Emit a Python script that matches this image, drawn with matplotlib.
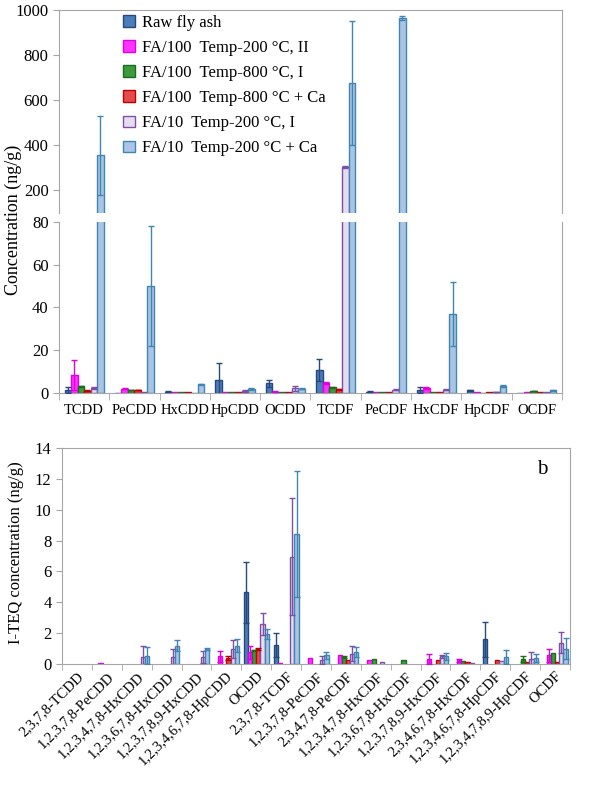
import numpy as np
import matplotlib.pyplot as plt

plt.rcParams['font.family'] = ['Liberation Serif', 'DejaVu Serif']

# Homologue groups (top chart)
homologues = ['TCDD', 'PeCDD', 'HxCDD', 'HpCDD', 'OCDD',
              'TCDF', 'PeCDF', 'HxCDF', 'HpCDF', 'OCDF']

# 2,3,7,8-substituted congeners (bottom chart)
congeners = ['2,3,7,8-TCDD', '1,2,3,7,8-PeCDD', '1,2,3,4,7,8-HxCDD',
             '1,2,3,6,7,8-HxCDD', '1,2,3,7,8,9-HxCDD', '1,2,3,4,6,7,8-HpCDD',
             'OCDD', '2,3,7,8-TCDF', '1,2,3,7,8-PeCDF', '2,3,4,7,8-PeCDF',
             '1,2,3,4,7,8-HxCDF', '1,2,3,6,7,8-HxCDF', '1,2,3,7,8,9-HxCDF',
             '2,3,4,6,7,8-HxCDF', '1,2,3,4,6,7,8-HpCDF', '1,2,3,4,7,8,9-HpCDF',
             'OCDF']

labels = ['Raw fly ash',
          'FA/100  Temp-200 °C, II',
          'FA/100  Temp-800 °C, I',
          'FA/100  Temp-800 °C + Ca',
          'FA/10  Temp-200 °C, I',
          'FA/10  Temp-200 °C + Ca']

# homologue concentrations (ng/g) and errors
raw_h = [1.4, 0.1, 0.6, 6.1, 4.5, 10.7, 0.5, 1.2, 1.2, 0.1]
raw_h_err = [1.4, 0, 0.2, 8.1, 1.6, 5.3, 0.2, 1.4, 0.3, 0]
mag_h = [8.4, 1.9, 0.3, 0.6, 0.6, 4.5, 0.4, 2.2, 0.3, 0.3]
mag_h_err = [7.0, 0.2, 0, 0, 0.2, 0.5, 0, 0.3, 0, 0]
grn_h = [3.0, 1.2, 0.3, 0.2, 0.5, 2.5, 0.2, 0.3, 0.1, 0.9]
grn_h_err = [0.3, 0.1, 0, 0, 0, 0.2, 0, 0, 0, 0.1]
red_h = [1.0, 1.2, 0.3, 0.2, 0.5, 1.6, 0.2, 0.3, 0.4, 0.5]
red_h_err = [0.2, 0.1, 0, 0, 0, 0.3, 0, 0, 0, 0]
pur_h = [2.3, 0.3, 0.1, 0.8, 2.2, 304, 1.5, 1.5, 0.4, 0.3]
pur_h_err = [0.5, 0, 0, 0.3, 1.2, 5, 0.4, 0.4, 0.1, 0]
lbl_h = [355, 50, 4.0, 1.9, 2.0, 677, 965, 37, 3.1, 1.2]
lbl_h_err = [175, 28, 0.3, 0.5, 0.4, 275, 8, 15, 0.5, 0.3]

# congener I-TEQ concentrations and errors
raw_c = [0, 0, 0, 0, 0, 0, 4.64, 1.24, 0, 0, 0, 0, 0, 0, 1.6, 0, 0]
raw_c_err = [0, 0, 0, 0, 0, 0, 1.95, 0.8, 0, 0, 0, 0, 0, 0, 1.15, 0, 0]
mag_c = [0, 0.05, 0, 0, 0, 0.5, 0.77, 0.05, 0.37, 0.56, 0.28, 0, 0.3, 0.25, 0, 0, 0.56]
mag_c_err = [0, 0, 0, 0, 0, 0.36, 0.43, 0, 0, 0, 0, 0, 0.33, 0.1, 0, 0, 0.41]
grn_c = [0, 0, 0, 0, 0, 0, 0.88, 0, 0, 0.45, 0.3, 0.25, 0, 0.2, 0, 0.35, 0.71]
grn_c_err = [0, 0, 0, 0, 0, 0, 0.05, 0, 0, 0.05, 0, 0, 0, 0, 0, 0.2, 0]
red_c = [0, 0, 0, 0, 0, 0.39, 0.99, 0, 0, 0.28, 0, 0, 0.28, 0.1, 0.28, 0.15, 0.1]
red_c_err = [0, 0, 0, 0, 0, 0.1, 0.05, 0, 0, 0, 0, 0, 0, 0, 0, 0, 0]
pur_c = [0, 0, 0.45, 0.45, 0.45, 0.97, 2.6, 6.95, 0.28, 0.67, 0.12, 0, 0.49, 0.05, 0.2, 0.35, 1.39]
pur_c_err = [0, 0, 0.7, 0.55, 0.37, 0.56, 0.7, 3.8, 0.26, 0.47, 0, 0, 0.1, 0, 0, 0.45, 0.67]
lbl_c = [0, 0, 0.54, 1.19, 0.97, 1.19, 1.94, 8.43, 0.56, 0.77, 0, 0, 0.49, 0, 0.45, 0.4, 0.99]
lbl_c_err = [0, 0, 0.54, 0.34, 0.05, 0.44, 0.33, 4.1, 0.24, 0.31, 0, 0, 0.21, 0, 0.48, 0.27, 0.69]

faces = ['#4A7EBB', '#FF33FF', '#3E9A3E', '#E54B4B', '#E6DCF0', '#A9C4E4']
edges = ['#24497A', '#E000E0', '#1D6B1D', '#C00000', '#7F4FA8', '#3F86B3']
grey = '#A6A6A6'

homo_vals = [raw_h, mag_h, grn_h, red_h, pur_h, lbl_h]
homo_errs = [raw_h_err, mag_h_err, grn_h_err, red_h_err, pur_h_err, lbl_h_err]
cong_vals = [raw_c, mag_c, grn_c, red_c, pur_c, lbl_c]
cong_errs = [raw_c_err, mag_c_err, grn_c_err, red_c_err, pur_c_err, lbl_c_err]

fig = plt.figure(figsize=(5.91, 7.92), dpi=100)
ax_hi = fig.add_axes([0.0998, 0.7311, 0.851, 0.2563])
ax_lo = fig.add_axes([0.0998, 0.504, 0.851, 0.2157])
ax_b = fig.add_axes([0.1049, 0.1616, 0.8596, 0.2727])


def draw_groups(ax, vals, errs, n, w):
    x = np.arange(n)
    handles = []
    for k in range(6):
        v = np.array(vals[k], dtype=float)
        e = np.array(errs[k], dtype=float)
        off = (k - 2.5) * w
        keep = v > 0
        b = ax.bar(x[keep] + off, v[keep], w, color=faces[k], edgecolor=edges[k],
                   linewidth=1.0, label=labels[k], zorder=2)
        ke = keep & (e > 0)
        ax.errorbar(x[ke] + off, v[ke], yerr=e[ke], fmt='none',
                    ecolor=edges[k], elinewidth=1.0, capsize=2, capthick=1.0,
                    zorder=3)
        handles.append(b)
    return handles


def style(ax):
    for s in ax.spines.values():
        s.set_color(grey)
    ax.tick_params(axis='both', colors=grey, labelcolor='black')


# top chart, broken y axis
handles = draw_groups(ax_hi, homo_vals, homo_errs, 10, 0.13)
draw_groups(ax_lo, homo_vals, homo_errs, 10, 0.13)

ax_hi.set_ylim(100, 1000)
ax_lo.set_ylim(0, 80)
ax_hi.set_yticks([200, 400, 600, 800, 1000])
ax_lo.set_yticks([0, 20, 40, 60, 80])
for ax in (ax_hi, ax_lo):
    ax.set_xlim(-0.5, 9.5)
    style(ax)
    ax.tick_params(axis='y', labelsize=12, length=4)
ax_hi.spines['bottom'].set_visible(False)
ax_hi.set_xticks([])
ax_lo.spines['top'].set_visible(False)
ax_lo.set_xticks(np.arange(10))
ax_lo.set_xticklabels(homologues, fontsize=10.5)
ax_lo.tick_params(axis='x', which='major', length=0, pad=8)
ax_lo.set_xticks(np.arange(11) - 0.5, minor=True)
ax_lo.tick_params(axis='x', which='minor', length=5, colors=grey)

ax_hi.legend(handles=handles, loc='upper left', bbox_to_anchor=(0.115, 1.01),
             frameon=False, fontsize=12, handlelength=0.7, handleheight=0.7,
             labelspacing=0.55, handletextpad=0.4, borderaxespad=0)

fig.text(0.022, 0.722, 'Concentration (ng/g)', rotation=90,
         ha='center', va='center', fontsize=13)

# bottom chart, congeners
draw_groups(ax_b, cong_vals, cong_errs, 17, 0.14)
ax_b.set_xlim(-0.5, 16.5)
ax_b.set_ylim(0, 14)
ax_b.set_yticks(np.arange(0, 15, 2))
style(ax_b)
ax_b.tick_params(axis='y', labelsize=12, length=4)
ax_b.set_xticks(np.arange(17))
ax_b.set_xticklabels(congeners, fontsize=10.5, rotation=45, ha='right',
                     rotation_mode='anchor')
ax_b.tick_params(axis='x', which='major', length=0, pad=4)
ax_b.set_xticks(np.arange(18) - 0.5, minor=True)
ax_b.tick_params(axis='x', which='minor', length=4, colors=grey)
ax_b.text(0.945, 0.9, 'b', transform=ax_b.transAxes, fontsize=15,
          ha='center', va='center')

fig.text(0.027, 0.302, 'I-TEQ concentration (ng/g)', rotation=90,
         ha='center', va='center', fontsize=12)

fig.savefig('out.png', dpi=100)
